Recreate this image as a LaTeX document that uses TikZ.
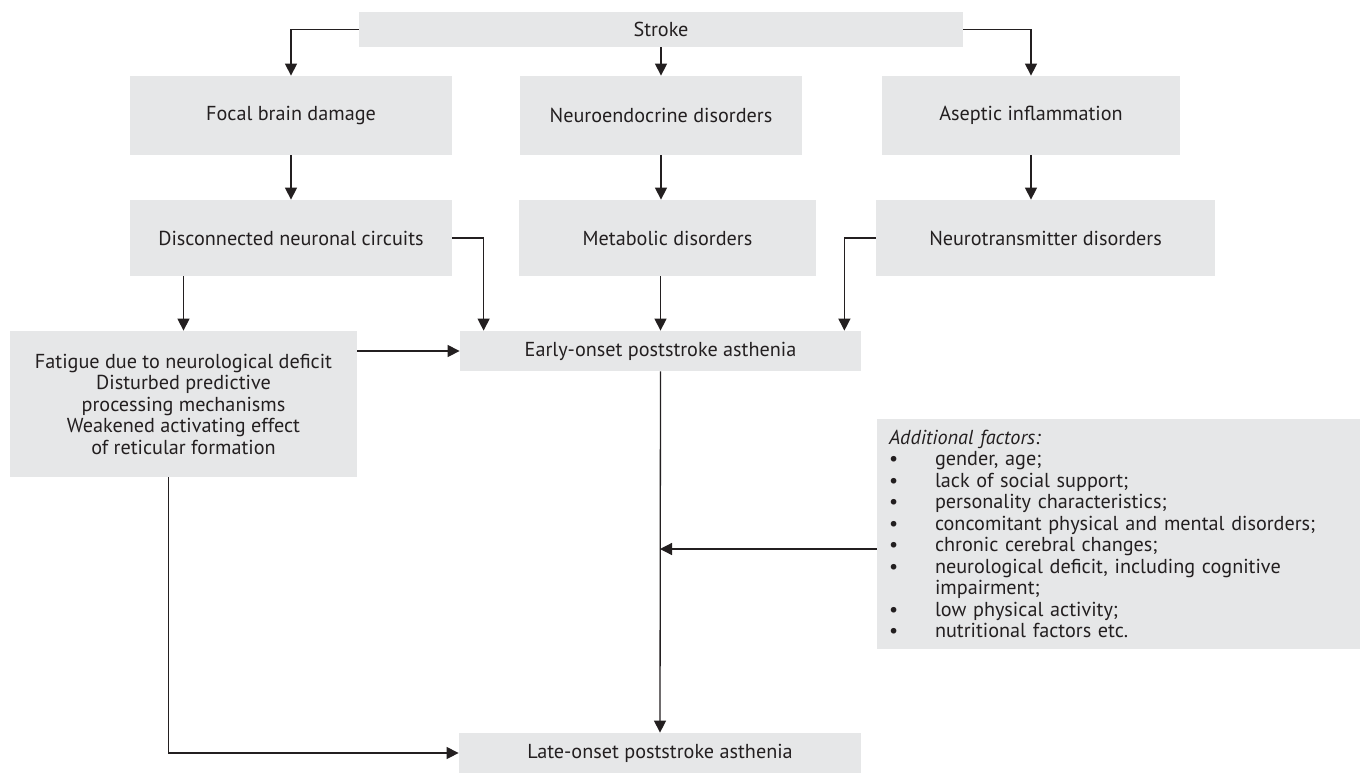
\documentclass[tikz,border=0pt]{standalone}
\usepackage{fontspec}
\setmainfont{PT Sans}
\usepackage{tikz}
\usetikzlibrary{arrows.meta,positioning}
\definecolor{boxgray}{HTML}{E6E7E8}
\definecolor{linegray}{HTML}{231F20}

\begin{document}
\begin{tikzpicture}[x=0.5pt,y=-0.5pt]
    % Define styles
    \tikzstyle{factor} = [rectangle, fill=boxgray, inner sep=0pt, align=center, text=linegray, font=\fontsize{10.1}{10.75}\selectfont]
    \tikzstyle{arrow} = [line width=0.65pt, draw=linegray, -{Triangle[width=6pt,length=6pt]}]

    \useasboundingbox (0,0) rectangle (1360,773);

    % Components
    \node[factor, minimum width=302pt, minimum height=17.5pt] (stroke) at (661,29.5) {Stroke};
    \node[factor, minimum width=161pt, minimum height=39.5pt] (focal) at (291,115.5) {Focal brain damage};
    \node[factor, minimum width=141pt, minimum height=39.5pt] (neuro) at (661,115.5) {Neuroendocrine disorders};
    \node[factor, minimum width=149pt, minimum height=39.5pt] (asep) at (1031,115.5) {Aseptic inflammation};
    \node[factor, minimum width=161pt, minimum height=38pt] (disc) at (291,238) {Disconnected neuronal circuits};
    \node[factor, minimum width=148.5pt, minimum height=38pt] (meta) at (667.5,238) {Metabolic disorders};
    \node[factor, minimum width=169.5pt, minimum height=38pt] (neurot) at (1045.5,238) {Neurotransmitter disorders};
    \node[factor, minimum width=173.5pt, minimum height=73pt] (fatigue) at (183.5,404) {Fatigue due to neurological deficit\\Disturbed predictive\\processing mechanisms\\Weakened activating effect\\of reticular formation};
    \node[factor, minimum width=200.5pt, minimum height=20pt] (early) at (660.5,351) {Early-onset poststroke asthenia};
    \node[factor, minimum width=241.5pt, minimum height=115pt, text width=229.5pt, inner xsep=6pt, align=left] (addl) at (1118.5,534) {\textit{Additional factors:}\\
        \makebox[23pt][l]{\textbullet}gender, age;\\
        \makebox[23pt][l]{\textbullet}lack of social support;\\
        \makebox[23pt][l]{\textbullet}personality characteristics;\\
        \makebox[23pt][l]{\textbullet}concomitant physical and mental disorders;\\
        \makebox[23pt][l]{\textbullet}chronic cerebral changes;\\
        \makebox[23pt][l]{\textbullet}neurological deficit, including cognitive\\
        \hspace*{23pt}impairment;\\
        \makebox[23pt][l]{\textbullet}low physical activity;\\
        \makebox[23pt][l]{\textbullet}nutritional factors etc.};
    \node[factor, minimum width=201pt, minimum height=20pt] (late) at (660,753) {Late-onset poststroke asthenia};
    \coordinate (join) at (660,549);

    % Connections
    \draw[arrow] (stroke.west) -| (focal.north);
    \draw[arrow] (stroke.south) -- (neuro.north);
    \draw[arrow] (stroke.east) -| (asep.north);
    \draw[arrow] (focal.south) -- (disc.north);
    \draw[arrow] (neuro.south) -- (neuro.south |- meta.north);
    \draw[arrow] (asep.south) -- (asep.south |- neurot.north);
    \draw[arrow] (disc.east) -| ([xshift=12pt]early.north west);
    \draw[arrow] (fatigue.north |- disc.south) -- (fatigue.north);
    \draw[arrow] (early.north |- meta.south) -- (early.north);
    \draw[arrow] (neurot.west) -| ([xshift=-8.5pt]early.north east);
    \draw[arrow] (fatigue.east |- early.west) -- (early.west);
    \draw[arrow] (early.south) -- (late.north);
    \draw[arrow] (addl.west |- join) -- (join);
    \draw[arrow] ([xshift=79.5pt]fatigue.south west) |- (late.west);
\end{tikzpicture}
\end{document}
